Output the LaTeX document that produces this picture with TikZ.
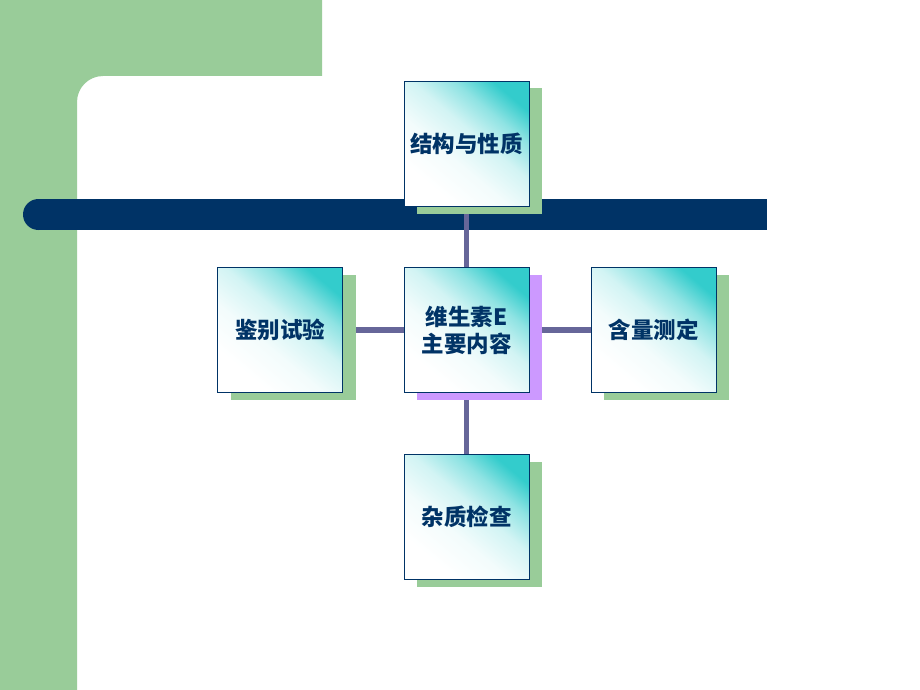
\documentclass[tikz,border=0pt]{standalone}
\usepackage{xcolor}
\usepackage{fontspec}
\newfontfamily\cjk{Noto Sans CJK SC}
\usepackage{tikz}
\usetikzlibrary{positioning,shadows}
\definecolor{sidegreen}{RGB}{153,204,153}
\definecolor{barblue}{RGB}{0,51,102}
\definecolor{linkgray}{RGB}{102,102,153}
\definecolor{shadelilac}{RGB}{204,153,255}
\definecolor{boxteal}{RGB}{51,204,204}
\definecolor{textnavy}{RGB}{0,51,102}
\pgfdeclareverticalshading{boxshade}{100bp}{color(0bp)=(white); color(28bp)=(white); color(42bp)=(boxteal!6!white); color(55bp)=(boxteal!22!white); color(66bp)=(boxteal!55!white); color(76bp)=(boxteal); color(100bp)=(boxteal)}
\pgfdeclarelayer{back}
\pgfdeclarelayer{links}
\pgfsetlayers{back,links,main}

\begin{document}
\begin{tikzpicture}[x=1pt,y=-1pt,
  topic/.style={draw=textnavy, line width=0.8pt, shading=boxshade, shading angle=-40,
    minimum width=125pt, minimum height=125pt, inner sep=0pt, align=center,
    text=textnavy, font=\cjk\bfseries\fontsize{22.5}{27}\selectfont,
    drop shadow={shadow xshift=13pt, shadow yshift=-7pt, opacity=1, fill=#1}},
  topic/.default=sidegreen,
  link/.style={draw=linkgray, line width=5.5pt}]
\useasboundingbox (0,0) rectangle (920,690);

\begin{pgfonlayer}{back}
%Shape: Page
\fill[white] (0,0) rectangle (920,690);
%Shape: Polygon (green frame)
\fill[sidegreen] (0,0) -- (322,0) -- (322,76) -- (103,76) arc[start angle=-90, end angle=-180, radius=26] -- (77,690) -- (0,690) -- cycle;
%Shape: Bar
\fill[barblue] (38.5,199) rectangle (767,230);
\fill[barblue] (38.5,214.5) circle (15.5);
\end{pgfonlayer}

% Text Node
\node[topic] (props) at (466.5,144) {结构与性质};
% Text Node
\node[topic=shadelilac] (main) at (466.5,330) {维生素E\\主要内容};
% Text Node
\node[topic] (ident) at (280,330) {鉴别试验};
% Text Node
\node[topic] (assay) at (653.5,330) {含量测定};
% Text Node
\node[topic] (impur) at (466.5,517) {杂质检查};

\begin{pgfonlayer}{links}
%Straight Lines
\draw[link] (main.north) -- (props.south);
\draw[link] (main.south) -- (impur.north);
\draw[link] (main.west) -- (ident.east);
\draw[link] (main.east) -- (assay.west);
\end{pgfonlayer}

\end{tikzpicture}
\end{document}
